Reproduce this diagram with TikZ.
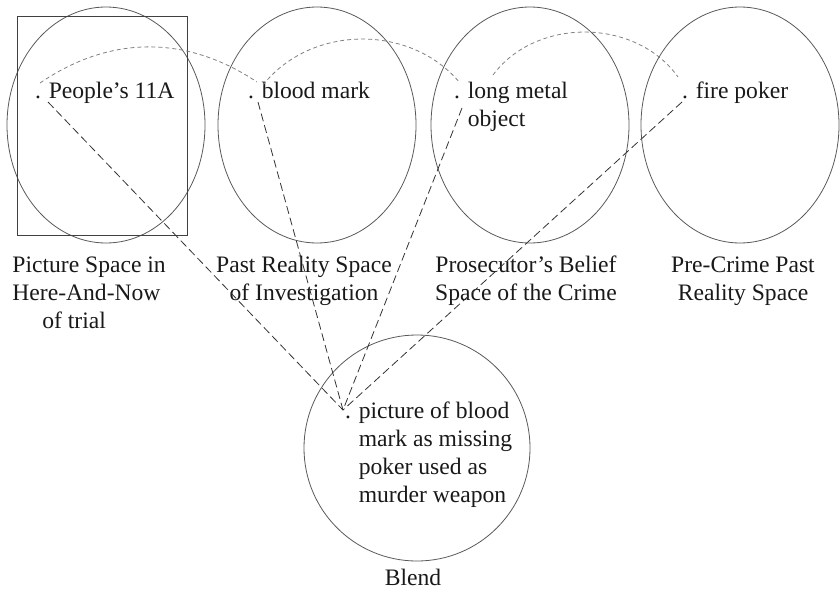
\documentclass[tikz,border=0pt]{standalone}
\usepackage{fontspec}
\setmainfont{Liberation Serif}
\usetikzlibrary{shapes.geometric, positioning}

\begin{document}
\begin{tikzpicture}[
	% One unit is one pixel of the figure, y running downwards.
	x=0.5pt, y=-0.5pt,
	font=\fontsize{11.8}{14}\selectfont
	]
	% Styles for the mental spaces and the mappings between them.
	% (a node with several lines sits on the baseline of its last line)
	\tikzset{
		space/.style={ellipse, draw=black!65, thin, minimum width=99pt, minimum height=118pt, inner sep=0pt},
		blendspace/.style={circle, draw=black!65, thin, minimum size=113pt, inner sep=0pt},
		elt/.style={inner sep=0pt, anchor=base, text=black!90},
		eltlabel/.style={inner sep=0pt, align=left, text=black!90},
		spacelabel/.style={inner sep=0pt, anchor=base, align=center, text=black!90},
		crossmap/.style={draw=black!50, thin, dash pattern=on 2pt off 1.5pt},
		projection/.style={draw=black!80, thin, dash pattern=on 4pt off 2pt}
	}
	\useasboundingbox (0,0) rectangle (840,594);
	
	% === SPACES ===
	% Four input spaces in a row, the blend below them.
	
	\node[space] (space1) at (106,125) {};
	\node[space] (space2) at (317,125) {};
	\node[space] (space3) at (530,125) {};
	\node[space] (space4) at (740,125) {};
	\node[blendspace] (blend) at (417,448) {};
	\draw[black!75, thin] (17,16) rectangle (187,235);
	
	\node[spacelabel, anchor=base west, align=left] (name1) at (12,328) {Picture Space in\\Here-And-Now\\\hspace*{15pt}of trial};
	\node[spacelabel] (name2) at (304,300) {Past Reality Space\\of Investigation};
	\node[spacelabel] (name3) at (526,300) {Prosecutor's Belief\\Space of the Crime};
	\node[spacelabel] (name4) at (743,300) {Pre-Crime Past\\Reality Space};
	\node[spacelabel] (name5) at (413,585) {Blend};
	
	% === ELEMENTS ===
	% Each element is a dot with its text to the right.
	
	\node[elt] (elt1) at (38,98) {.};
	\node[eltlabel, right=3.5pt of elt1.base east, anchor=base west] (lbl1) {People's 11A};
	\node[elt] (elt2) at (251,98) {.};
	\node[eltlabel, right=3.5pt of elt2.base east, anchor=base west] (lbl2) {blood mark};
	\node[elt] (elt3) at (457,98) {.};
	\node[eltlabel, right=3.5pt of elt3.base east, anchor=base west, yshift=-14pt] (lbl3) {long metal\\object};
	\node[elt] (elt4) at (685,98) {.};
	\node[eltlabel, right=3.5pt of elt4.base east, anchor=base west] (lbl4) {fire poker};
	\node[elt] (elt5) at (348,418) {.};
	\node[eltlabel, right=3.5pt of elt5.base east, anchor=base west, yshift=-42pt] (lbl5) {picture of blood\\mark as missing\\poker used as\\murder weapon};
	
	% === MAPPINGS ===
	% Cross-space links on top, projections down to the blend.
	
	\draw[crossmap] ([xshift=1pt, yshift=7.5pt]elt1.base) to[bend left=34] ([xshift=3pt, yshift=8pt]elt2.base);
	\draw[crossmap] ([xshift=6pt, yshift=6.5pt]elt2.base) to[bend left=51] ([xshift=1.5pt, yshift=7.5pt]elt3.base);
	\draw[crossmap] ([xshift=18pt, yshift=11.5pt]elt3.base) to[bend left=54] ([xshift=-3.5pt, yshift=10.5pt]elt4.base);
	
	\draw[projection] ([xshift=5pt, yshift=-2pt]elt1.base) -- ([xshift=-2.5pt, yshift=4pt]elt5.base);
	\draw[projection] ([xshift=3.5pt, yshift=-2pt]elt2.base) -- ([xshift=-2.5pt, yshift=4pt]elt5.base);
	\draw[projection] ([xshift=2.5pt, yshift=-5pt]elt3.base) -- ([xshift=-2.5pt, yshift=4pt]elt5.base);
	\draw[projection] ([xshift=-1.5pt, yshift=-2pt]elt4.base) -- ([xshift=-2.5pt, yshift=4pt]elt5.base);
\end{tikzpicture}
\end{document}
